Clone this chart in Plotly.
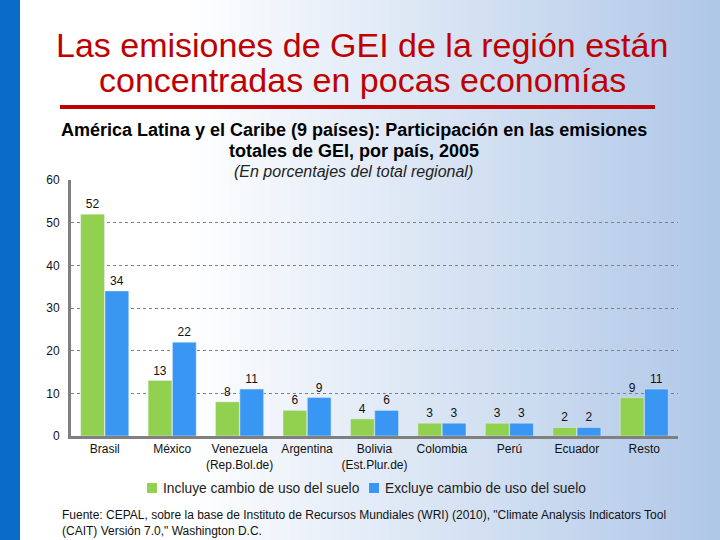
import plotly.graph_objects as go

categories = ["Brasil", "México", "Venezuela<br>(Rep.Bol.de)", "Argentina", "Bolivia<br>(Est.Plur.de)",
              "Colombia", "Perú", "Ecuador", "Resto"]
incluye = [52, 13, 8, 6, 4, 3, 3, 2, 9]
excluye = [34, 22, 11, 9, 6, 3, 3, 2, 11]
series_names = ["Incluye cambio de uso del suelo", "Excluye cambio de uso del suelo"]
y_ticks = [0, 10, 20, 30, 40, 50, 60]

GREEN = "#92D050"
BLUE = "#3996F3"
FONT = "Liberation Sans, Arial, sans-serif"

L, R, T, B = 71, 42, 180, 104
PW = 720 - L - R
PH = 540 - T - B

def px_x(x):
    return (x - L) / PW

def px_y(y):
    return (540 - B - y) / PH

fig = go.Figure()
fig.add_trace(go.Bar(x=categories, y=incluye, name=series_names[0], marker_color=GREEN,
                     text=incluye, textposition="outside", cliponaxis=False,
                     textfont=dict(size=12, color="#111", family=FONT)))
fig.add_trace(go.Bar(x=categories, y=excluye, name=series_names[1], marker_color=BLUE,
                     text=excluye, textposition="outside", cliponaxis=False,
                     textfont=dict(size=12, color="#111", family=FONT)))

# background gradient strips
shapes = []
N = 72
for i in range(N):
    t = i / (N - 1)
    f = 0.0 if t < 0.25 else (t - 0.25) / 0.75
    r = round(255 + (176 - 255) * f)
    g = round(255 + (200 - 255) * f)
    b = round(255 + (232 - 255) * f)
    shapes.append(dict(type="rect", xref="paper", yref="paper", layer="below",
                       x0=px_x(i * 720 / N), x1=px_x((i + 1.05) * 720 / N),
                       y0=px_y(540), y1=px_y(0), line_width=0,
                       fillcolor=f"rgb({r},{g},{b})"))
# left blue stripe
shapes.append(dict(type="rect", xref="paper", yref="paper", layer="below",
                   x0=px_x(0), x1=px_x(20), y0=px_y(540), y1=px_y(0),
                   line_width=0, fillcolor="#0A6CC8"))
# red rule under the title
shapes.append(dict(type="line", xref="paper", yref="paper",
                   x0=px_x(60), x1=px_x(655), y0=px_y(107), y1=px_y(107),
                   line=dict(color="#C00000", width=4)))

def ann(text, x, y, size, color, xanchor="center"):
    return dict(text=text, x=px_x(x), y=px_y(y), xref="paper", yref="paper", showarrow=False,
                xanchor=xanchor, yanchor="middle",
                font=dict(size=size, color=color, family=FONT),
                align=xanchor if xanchor != "center" else "center")

annotations = [
    ann("Las emisiones de GEI de la región están", 362, 45, 34, "#C00000"),
    ann("concentradas en pocas economías", 362, 80, 34, "#C00000"),
    ann("<b>América Latina y el Caribe (9 países): Participación en las emisiones</b>", 354, 130, 18, "#000"),
    ann("<b>totales de GEI, por país, 2005</b>", 354, 151, 18, "#000"),
    ann("<i>(En porcentajes del total regional)</i>", 353, 171, 16, "#222"),
    ann('Fuente: CEPAL, sobre la base de Instituto de Recursos Mundiales (WRI) (2010), "Climate Analysis Indicators Tool',
        60, 515, 12, "#111", xanchor="left"),
    ann('(CAIT) Versión 7.0," Washington D.C.', 60, 531, 12, "#111", xanchor="left"),
]

# legend (drawn as swatches + labels for tight spacing)
legend_x = [147, 369]
for name, color, lx in zip(series_names, [GREEN, BLUE], legend_x):
    shapes.append(dict(type="rect", xref="paper", yref="paper",
                       x0=px_x(lx), x1=px_x(lx + 10), y0=px_y(493), y1=px_y(483),
                       line_width=0, fillcolor=color))
    annotations.append(ann(name, lx + 14, 488, 13.8, "#222", xanchor="left"))

fig.update_layout(
    width=720, height=540,
    margin=dict(l=L, r=R, t=T, b=B, autoexpand=False),
    paper_bgcolor="white", plot_bgcolor="rgba(0,0,0,0)",
    barmode="group", bargap=0.28, bargroupgap=0.02,
    font=dict(family=FONT, size=12, color="#111"),
    showlegend=False,
    shapes=shapes, annotations=annotations,
    xaxis=dict(showline=True, linecolor="#808080", linewidth=3, ticks="", automargin=False,
               tickfont=dict(size=12, color="#111"), showgrid=False),
    yaxis=dict(range=[0, 60], tickvals=y_ticks, showline=True, linecolor="#808080", linewidth=3,
               showgrid=True, gridcolor="#808080", griddash="dot", gridwidth=1, automargin=False,
               zeroline=False, ticks="", ticklabelstandoff=6,
               tickfont=dict(size=12, color="#111")),
)

fig.write_html("out.html", config={"displayModeBar": False},
               post_script="document.body.style.margin='0';document.body.style.padding='0';")
